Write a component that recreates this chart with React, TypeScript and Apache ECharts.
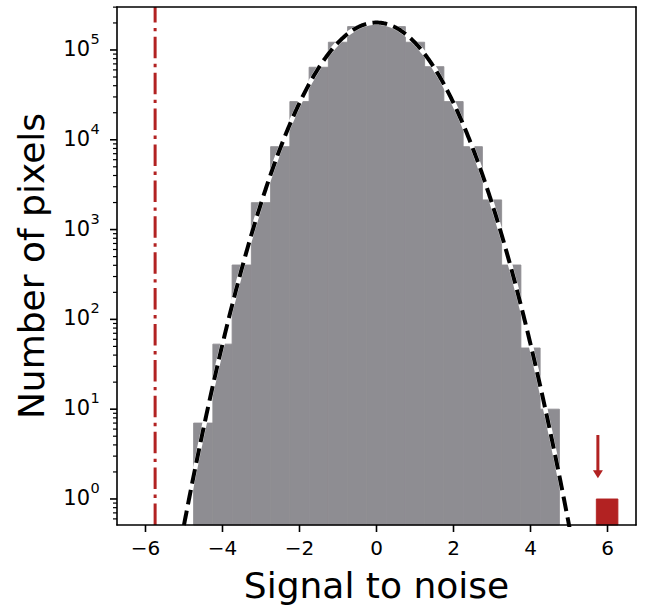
import React, { useEffect, useRef } from "react";
import * as echarts from "echarts";

// ---- data ----
const binCenters = [-4.5, -4, -3.5, -3, -2.5, -2, -1.5, -1, -0.5, 0, 0.5, 1, 1.5, 2, 2.5, 3, 3.5, 4, 4.5];
const binWidth = 0.5;
const binCounts = [7, 53, 403, 1995, 8380, 26600, 64200, 122000, 182000, 202000, 182000, 122000, 65200, 26600, 8380, 2140, 403, 48, 10];

// outlier bin (red)
const outlierEdges = [5.71, 6.27];
const outlierCount = 1;

// threshold marks
const thresholdNeg = -5.75;
const arrowX = 5.75;
const arrowFrom = 5.16;
const arrowTo = 1.7;

// gaussian model (dashed curve)
const gaussAmplitude = 202000;
const gaussMean = 0;
const gaussSigma = 0.985;

// axes
const X_MIN = -6.74;
const X_MAX = 6.74;
const Y_MIN = 0.513;
const Y_MAX = 301000;
const xTickValues = [-6, -4, -2, 0, 2, 4, 6];
const xTickLabels = ["\u22126", "\u22124", "\u22122", "0", "2", "4", "6"];
const yMajorValues = [1, 10, 100, 1000, 10000, 100000];
const yMajorExponents = ["0", "1", "2", "3", "4", "5"];
const yMinorValues = [
  0.6, 0.7, 0.8, 0.9,
  2, 3, 4, 5, 6, 7, 8, 9,
  20, 30, 40, 50, 60, 70, 80, 90,
  200, 300, 400, 500, 600, 700, 800, 900,
  2000, 3000, 4000, 5000, 6000, 7000, 8000, 9000,
  20000, 30000, 40000, 50000, 60000, 70000, 80000, 90000,
  200000, 300000,
];

const GRAY = "#8e8d92";
const RED = "#b22222";
const FONT = "DejaVu Sans";

export default function App() {
  const ref = useRef<HTMLDivElement>(null);

  useEffect(() => {
    if (!ref.current) return;
    const chart = echarts.init(ref.current, undefined, { renderer: "svg" });

    const histData = binCenters.map((c, i) => [c - binWidth / 2, c + binWidth / 2, binCounts[i]]);
    const curve: number[][] = [];
    for (let x = -5.4; x <= 5.4001; x += 0.02) {
      const v = gaussAmplitude * Math.exp(-((x - gaussMean) ** 2) / (2 * gaussSigma * gaussSigma));
      curve.push([x, v]);
    }

    const rectItem = (color: string) => (params: any, api: any) => {
      const l = api.value(0);
      const r = api.value(1);
      const v = api.value(2);
      const p1 = api.coord([l, v]);
      const p2 = api.coord([r, Y_MIN]);
      return {
        type: "rect",
        shape: { x: p1[0], y: p1[1], width: p2[0] - p1[0], height: p2[1] - p1[1] },
        style: { fill: color, stroke: color, lineWidth: 0.9 },
      };
    };

    const option: any = {
      animation: false,
      backgroundColor: "#ffffff",
      grid: { left: 117, right: 21, top: 7, bottom: 85, containLabel: false },
      xAxis: [
        {
          type: "value", min: X_MIN, max: X_MAX, position: "bottom", z: 10,
          axisLine: { show: true, onZero: false, lineStyle: { color: "#000", width: 1.6 } },
          axisTick: { show: false }, axisLabel: { show: false }, splitLine: { show: false },
        },
        {
          type: "value", min: X_MIN, max: X_MAX, position: "top", z: 10,
          axisLine: { show: true, onZero: false, lineStyle: { color: "#000", width: 1.6 } },
          axisTick: { show: false }, axisLabel: { show: false }, splitLine: { show: false },
        },
      ],
      yAxis: [
        {
          type: "log", logBase: 10, min: Y_MIN, max: Y_MAX, position: "left", z: 10,
          axisLine: { show: true, onZero: false, lineStyle: { color: "#000", width: 1.6 } },
          axisTick: { show: false }, axisLabel: { show: false }, splitLine: { show: false },
        },
        {
          type: "log", logBase: 10, min: Y_MIN, max: Y_MAX, position: "right", z: 10,
          axisLine: { show: true, onZero: false, lineStyle: { color: "#000", width: 1.6 } },
          axisTick: { show: false }, axisLabel: { show: false }, splitLine: { show: false },
        },
      ],
      series: [
        {
          type: "custom", name: "histogram", silent: true,
          encode: { x: [0, 1], y: 2 },
          data: histData,
          renderItem: rectItem(GRAY),
          z: 2,
        },
        {
          type: "custom", name: "outlier", silent: true,
          encode: { x: [0, 1], y: 2 },
          data: [[outlierEdges[0], outlierEdges[1], outlierCount]],
          renderItem: rectItem(RED),
          z: 2,
        },
        {
          type: "line", name: "gauss-under", silent: true, data: curve,
          showSymbol: false, symbol: "none", clip: true, z: 3,
          lineStyle: { color: "#ffffff", width: 4.5 },
        },
        {
          type: "line", name: "gauss", silent: true, data: curve,
          showSymbol: false, symbol: "none", clip: true, z: 4,
          lineStyle: { color: "#000000", width: 4, type: [14.8, 6.4], cap: "butt" },
        },
        {
          type: "line", name: "threshold", silent: true,
          data: [[thresholdNeg, Y_MIN], [thresholdNeg, Y_MAX]],
          showSymbol: false, symbol: "none", clip: true, z: 4,
          lineStyle: { color: RED, width: 3, type: [21.5, 5.5, 3.4, 5.5] },
        },
        {
          type: "custom", name: "arrow", silent: true, clip: false, z: 5,
          encode: { x: 0, y: [1, 2] },
          data: [[arrowX, arrowFrom, arrowTo]],
          renderItem: (params: any, api: any) => {
            const a = api.coord([api.value(0), api.value(1)]);
            const b = api.coord([api.value(0), api.value(2)]);
            const headLen = 8;
            const headHalf = 5;
            return {
              type: "group",
              children: [
                {
                  type: "line",
                  shape: { x1: a[0], y1: a[1], x2: b[0], y2: b[1] - headLen + 1 },
                  style: { stroke: RED, lineWidth: 3 },
                },
                {
                  type: "polygon",
                  shape: { points: [[b[0] - headHalf, b[1] - headLen], [b[0] + headHalf, b[1] - headLen], [b[0], b[1]]] },
                  style: { fill: RED },
                },
              ],
            };
          },
        },
        {
          type: "custom", name: "xticks", silent: true, clip: false, z: 11,
          encode: { x: 0, y: 1 },
          data: xTickValues.map((v) => [v, Y_MIN]),
          renderItem: (params: any, api: any) => {
            const p = api.coord([api.value(0), Y_MIN]);
            return {
              type: "group",
              children: [
                { type: "line", shape: { x1: p[0], y1: p[1], x2: p[0], y2: p[1] + 7 }, style: { stroke: "#000", lineWidth: 1.6 } },
                {
                  type: "text", x: p[0], y: p[1] + 13,
                  style: { text: xTickLabels[params.dataIndex], fill: "#000", fontSize: 20, fontFamily: FONT, align: "center", verticalAlign: "top" },
                },
              ],
            };
          },
        },
        {
          type: "custom", name: "yticks", silent: true, clip: false, z: 11,
          encode: { x: 0, y: 1 },
          data: yMajorValues.map((v) => [X_MIN, v]),
          renderItem: (params: any, api: any) => {
            const p = api.coord([X_MIN, api.value(1)]);
            return {
              type: "group",
              children: [
                { type: "line", shape: { x1: p[0] - 7, y1: p[1], x2: p[0], y2: p[1] }, style: { stroke: "#000", lineWidth: 1.6 } },
                {
                  type: "text", x: p[0] - 27, y: p[1] - 1,
                  style: { text: "10", fill: "#000", fontSize: 21, fontFamily: FONT, align: "right", verticalAlign: "middle" },
                },
                {
                  type: "text", x: p[0] - 26.5, y: p[1] - 11,
                  style: { text: yMajorExponents[params.dataIndex], fill: "#000", fontSize: 14.5, fontFamily: FONT, align: "left", verticalAlign: "middle" },
                },
              ],
            };
          },
        },
        {
          type: "custom", name: "yminor", silent: true, clip: false, z: 11,
          encode: { x: 0, y: 1 },
          data: yMinorValues.map((v) => [X_MIN, v]),
          renderItem: (params: any, api: any) => {
            const p = api.coord([X_MIN, api.value(1)]);
            return { type: "line", shape: { x1: p[0] - 4, y1: p[1], x2: p[0], y2: p[1] }, style: { stroke: "#000", lineWidth: 1.2 } };
          },
        },
      ],
      graphic: [
        {
          type: "text", x: 376.5, y: 585,
          style: { text: "Signal to noise", fontSize: 36, fontFamily: FONT, fill: "#000", align: "center", verticalAlign: "middle" },
        },
        {
          type: "text", x: 31, y: 266, rotation: Math.PI / 2,
          style: { text: "Number of pixels", fontSize: 36, fontFamily: FONT, fill: "#000", align: "center", verticalAlign: "middle" },
        },
      ],
    };

    chart.setOption(option);
    return () => chart.dispose();
  }, []);

  return <div ref={ref} style={{ position: "absolute", left: 0, top: 0, width: 657, height: 610 }} />;
}
